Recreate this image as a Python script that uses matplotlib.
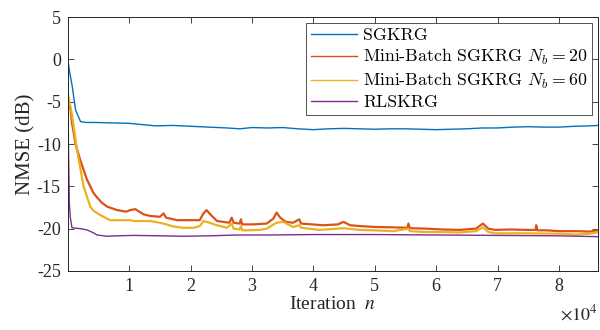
import numpy as np
import matplotlib.pyplot as plt

# values (iteration n, NMSE in dB)
sgkrg_n = [0, 300, 730, 1270, 2080, 3000, 4500, 7000, 9950, 12100, 14300, 17000, 20000,
           23000, 26000, 28000, 30000, 32500, 35000, 37500, 40000, 42500, 45000, 47500,
           50000, 52500, 55000, 57500, 60000, 62500, 65000, 67500, 70000, 72500, 75000,
           77500, 80000, 82500, 85000, 86400]
sgkrg_db = [0.0, -1.5, -3.2, -6.0, -7.35, -7.45, -7.45, -7.5, -7.55, -7.7, -7.85, -7.8, -7.9,
            -8.0, -8.1, -8.2, -8.05, -8.1, -8.05, -8.2, -8.3, -8.2, -8.15, -8.2,
            -8.25, -8.2, -8.2, -8.25, -8.3, -8.25, -8.2, -8.1, -8.1, -8.0, -7.95,
            -8.0, -8.0, -7.9, -7.85, -7.8]

mb20_n = [0, 460, 680, 1270, 2030, 3120, 4200, 4750, 5500, 6400, 8000, 9500, 10200, 11000,
          12300, 13400, 15000, 15600, 16000, 17800, 20000, 21500, 22000, 22600, 23200, 24300,
          26300, 26700, 27000, 28000, 28200, 28400, 30200, 32400, 33500, 34000, 34600, 35500,
          36700, 37700, 38000, 41600, 44000, 44900, 46000, 47600, 50000, 53000, 55300, 55500,
          55700, 58400, 61000, 63800, 66500, 67600, 68500, 69600, 72000, 74700, 76200, 76300,
          76500, 78000, 80100, 82800, 85000, 86400]
mb20_db = [-4.5, -6.0, -7.5, -10.0, -11.9, -14.2, -15.8, -16.3, -16.9, -17.4, -17.8, -18.0, -17.8, -17.7,
           -18.3, -18.5, -18.6, -18.2, -18.7, -19.0, -19.0, -19.0, -18.3, -17.8, -18.3, -19.1,
           -19.3, -18.7, -19.3, -19.4, -18.9, -19.5, -19.5, -19.4, -18.8, -18.1, -18.7, -19.2,
           -19.3, -18.9, -19.4, -19.6, -19.5, -19.2, -19.6, -19.7, -19.8, -19.85, -19.9, -19.4,
           -19.95, -20.0, -20.1, -20.15, -20.0, -19.4, -20.0, -20.15, -20.1, -20.15, -20.15, -19.6,
           -20.2, -20.2, -20.3, -20.3, -20.35, -20.2]

mb60_n = [0, 680, 1500, 2570, 3660, 4200, 5280, 6900, 8000, 10200, 10700, 13400, 15000, 16100,
          17200, 18800, 20500, 21500, 22100, 23100, 24300, 25900, 26700, 27000, 28000, 28200,
          28400, 29100, 31300, 32400, 34000, 35100, 36700, 37700, 38000, 41000, 44900, 47600,
          50000, 53000, 55500, 55700, 58400, 61000, 63800, 66500, 67600, 68500, 69600, 74700,
          80100, 82800, 85000, 86400]
mb60_db = [-4.0, -6.5, -10.7, -15.0, -17.4, -17.9, -18.4, -19.0, -19.0, -19.0, -19.1, -19.1, -19.3, -19.5,
           -19.75, -19.9, -19.9, -19.7, -19.1, -19.3, -19.6, -19.9, -19.4, -20.0, -20.1, -19.7,
           -20.2, -20.2, -20.15, -20.0, -19.3, -19.2, -19.8, -19.6, -19.9, -20.15, -19.95, -20.15,
           -20.2, -20.3, -20.0, -20.3, -20.4, -20.4, -20.45, -20.3, -19.85, -20.4, -20.55, -20.55,
           -20.6, -20.7, -20.6, -20.4]

rls_n = [0, 100, 250, 400, 680, 2000, 3120, 4200, 4750, 6370, 8000, 10700, 15000, 18800,
         23000, 27600, 33000, 40000, 50000, 60000, 70000, 80000, 86400]
rls_db = [0.0, -10.0, -17.0, -18.6, -19.9, -20.0, -20.15, -20.5, -20.75, -20.9, -20.85, -20.8, -20.85, -20.9,
          -20.85, -20.75, -20.75, -20.7, -20.7, -20.75, -20.8, -20.85, -20.95]

x_ticks = [10000, 20000, 30000, 40000, 50000, 60000, 70000, 80000]
x_ticklabels = ['1', '2', '3', '4', '5', '6', '7', '8']
y_ticks = [5, 0, -5, -10, -15, -20, -25]

plt.rcParams['font.family'] = ['Liberation Serif', 'DejaVu Serif']

fig = plt.figure(figsize=(6, 3.3), dpi=100)
ax = fig.add_axes([0.113, 0.179, 0.884, 0.769])

ax.plot(sgkrg_n, sgkrg_db, color='#0072BD', lw=1.0, label='SGKRG')
ax.plot(mb20_n, mb20_db, color='#D95319', lw=1.6, label=r'Mini-Batch SGKRG $N_b = 20$')
ax.plot(mb60_n, mb60_db, color='#EDB120', lw=1.6, label=r'Mini-Batch SGKRG $N_b = 60$')
ax.plot(rls_n, rls_db, color='#7E2F8E', lw=1.0, label='RLSKRG')

ax.set_xlim(0, 86400)
ax.set_ylim(-25, 5)
ax.set_xticks(x_ticks)
ax.set_xticklabels(x_ticklabels)
ax.set_yticks(y_ticks)
ax.set_yticklabels([str(v) for v in y_ticks])
ax.tick_params(direction='in', top=True, right=True, length=4, width=0.6,
               labelsize=13, colors='#262626', pad=5)
for s in ax.spines.values():
    s.set_linewidth(0.7)
    s.set_color('#262626')

ax.set_ylabel('NMSE (dB)', fontsize=15, color='#262626', labelpad=1)
ax.set_xlabel(r'Iteration  $n$', fontsize=14, color='#262626', labelpad=1,
              math_fontfamily='stix')
ax.text(1.0, -0.13, r'$\times10^4$', transform=ax.transAxes, ha='right', va='top',
        fontsize=13, color='#262626', math_fontfamily='stix')

leg = ax.legend(loc='upper right', frameon=True, fancybox=False,
                edgecolor='#262626', handlelength=2.6, handletextpad=0.35,
                borderpad=0.25, labelspacing=0.22, borderaxespad=0.35,
                prop={'family': 'cmr10', 'size': 12.8})
leg.get_frame().set_linewidth(0.7)
for t in leg.get_texts():
    t.set_math_fontfamily('cm')
for h in leg.get_lines():
    h.set_linewidth(1.0)

fig.savefig('out.png', dpi=100)
